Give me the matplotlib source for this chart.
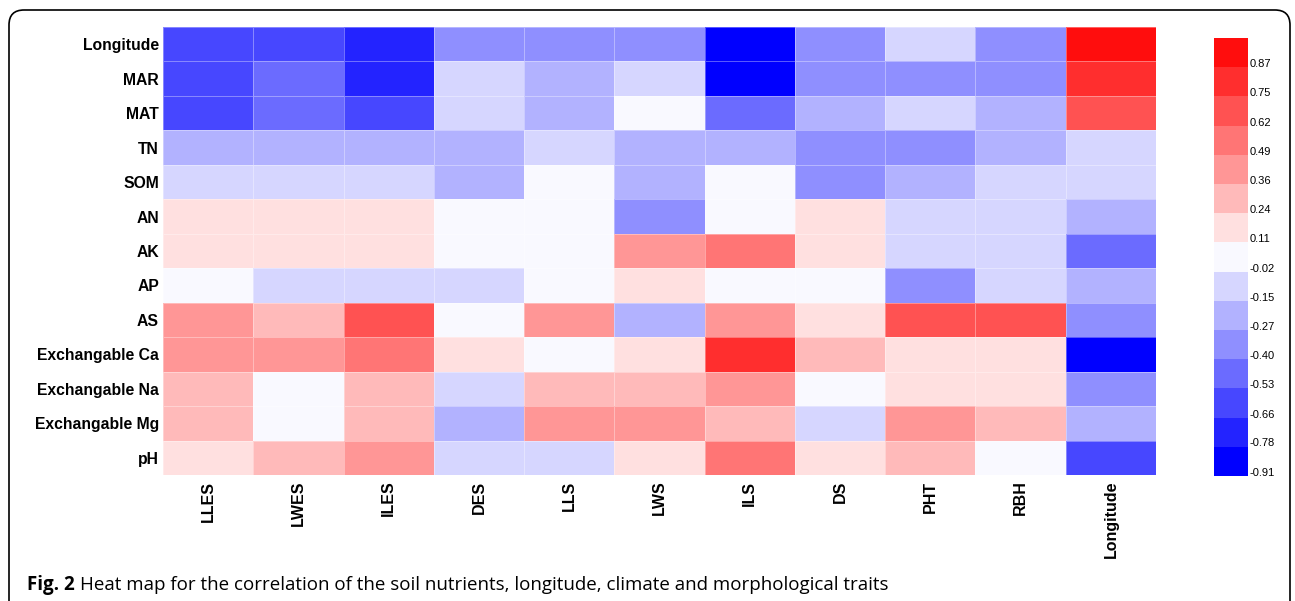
import numpy as np
import matplotlib
matplotlib.use("Agg")
import matplotlib.pyplot as plt
from matplotlib.colors import ListedColormap, BoundaryNorm
from matplotlib.patches import FancyBboxPatch

rows = ["Longitude", "MAR", "MAT", "TN", "SOM", "AN", "AK", "AP", "AS",
        "Exchangable Ca", "Exchangable Na", "Exchangable Mg", "pH"]
cols = ["LLES", "LWES", "ILES", "DES", "LLS", "LWS", "ILS", "DS", "PHT", "RBH", "Longitude"]

# colour-bar levels (bottom to top) and their colours
levels = [-0.91, -0.78, -0.66, -0.53, -0.40, -0.27, -0.15, -0.02,
          0.11, 0.24, 0.36, 0.49, 0.62, 0.75, 0.87]
level_colors = ["#0000FF", "#2323FF", "#4747FF", "#6B6BFF", "#8F8FFF", "#B2B2FF", "#D6D6FF", "#F9F9FF",
                "#FFE0E0", "#FFBABA", "#FF9696", "#FF7575", "#FF5252", "#FF2E2E", "#FF0D0D"]

# correlation values (binned to the colour-bar levels)
longitude = [-0.66, -0.66, -0.78, -0.40, -0.40, -0.40, -0.91, -0.40, -0.15, -0.40, 0.87]
mar = [-0.66, -0.53, -0.78, -0.15, -0.27, -0.15, -0.91, -0.40, -0.40, -0.40, 0.75]
mat = [-0.66, -0.53, -0.66, -0.15, -0.27, -0.02, -0.53, -0.27, -0.15, -0.27, 0.62]
tn = [-0.27, -0.27, -0.27, -0.27, -0.15, -0.27, -0.27, -0.40, -0.40, -0.27, -0.15]
som = [-0.15, -0.15, -0.15, -0.27, -0.02, -0.27, -0.02, -0.40, -0.27, -0.15, -0.15]
an = [0.11, 0.11, 0.11, -0.02, -0.02, -0.40, -0.02, 0.11, -0.15, -0.15, -0.27]
ak = [0.11, 0.11, 0.11, -0.02, -0.02, 0.36, 0.49, 0.11, -0.15, -0.15, -0.53]
ap = [-0.02, -0.15, -0.15, -0.15, -0.02, 0.11, -0.02, -0.02, -0.40, -0.15, -0.27]
as_ = [0.36, 0.24, 0.62, -0.02, 0.36, -0.27, 0.36, 0.11, 0.62, 0.62, -0.40]
ca = [0.36, 0.36, 0.49, 0.11, -0.02, 0.11, 0.75, 0.24, 0.11, 0.11, -0.91]
na = [0.24, -0.02, 0.24, -0.15, 0.24, 0.24, 0.36, -0.02, 0.11, 0.11, -0.40]
mg = [0.24, -0.02, 0.24, -0.27, 0.36, 0.36, 0.24, -0.15, 0.36, 0.24, -0.27]
ph = [0.11, 0.24, 0.36, -0.15, -0.15, 0.11, 0.49, 0.11, 0.24, -0.02, -0.66]

data = np.array([longitude, mar, mat, tn, som, an, ak, ap, as_, ca, na, mg, ph])

cmap = ListedColormap(level_colors)
bounds = np.array(levels) - 0.018
bounds = np.append(bounds, bounds[-1] + 0.1274)
norm = BoundaryNorm(bounds, cmap.N)

plt.rcParams['font.family'] = ['Liberation Sans', 'DejaVu Sans']

fig = plt.figure(figsize=(12.95, 6.01), dpi=100)
ax = fig.add_axes([0.1259, 0.2097, 0.7668, 0.7454])
mesh = ax.pcolormesh(data, cmap=cmap, norm=norm, edgecolors=(1, 1, 1, 0.35), linewidth=0.6)
ax.set_xlim(0, len(cols))
ax.set_ylim(len(rows), 0)
ax.set_xticks(np.arange(len(cols)) + 0.5)
ax.set_xticklabels(cols, rotation=90, fontsize=11.5, fontweight='bold')
ax.set_yticks(np.arange(len(rows)) + 0.5)
ax.set_yticklabels(rows, fontsize=11.3, fontweight='bold')
ax.tick_params(length=0, pad=3)
ax.tick_params(axis='x', pad=4)
for s in ax.spines.values():
    s.set_visible(False)

cax = fig.add_axes([0.9375, 0.208, 0.02625, 0.7288])
cb = fig.colorbar(mesh, cax=cax, boundaries=bounds, ticks=levels)
cb.set_ticklabels(["%.2f" % v for v in levels])
cb.ax.minorticks_off()
cb.ax.tick_params(which='both', length=0, pad=1, labelsize=8)
cb.outline.set_visible(False)

# figure frame
frame = FancyBboxPatch((0.09, -0.3), 12.81, 6.21, boxstyle="round,pad=0,rounding_size=0.15",
                       transform=fig.dpi_scale_trans, fill=False, edgecolor='black', linewidth=1.2)
fig.patches.append(frame)

t1 = fig.text(27 / 1295, 1 - 585 / 601, "Fig. 2", fontsize=13.5, fontweight='bold',
              family=['Open Sans', 'DejaVu Sans'], va='center')
fig.canvas.draw()
bb = t1.get_window_extent()
fig.text((bb.x1 + 5) / 1295, 1 - 585 / 601,
         "Heat map for the correlation of the soil nutrients, longitude, climate and morphological traits",
         fontsize=13.5, family=['Open Sans', 'DejaVu Sans'], va='center')

fig.savefig("out.png", dpi=100)
